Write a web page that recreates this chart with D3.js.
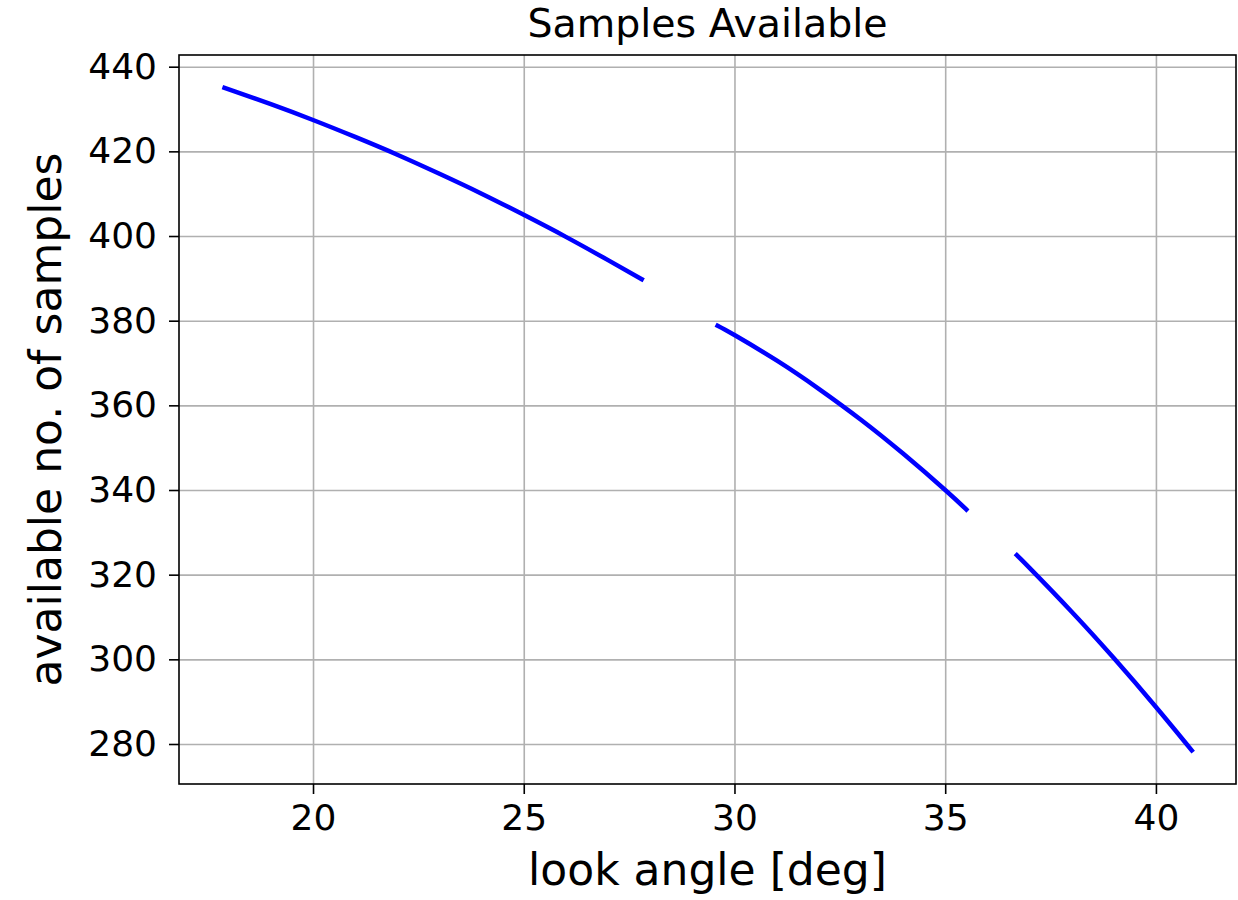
<!DOCTYPE html>
<html>
<head>
<meta charset="utf-8">
<script src="https://cdn.jsdelivr.net/npm/d3@7"></script>
<style>
  html, body { margin: 0; padding: 0; background: #fff; }
  svg { display: block; font-family: "DejaVu Sans", sans-serif; }
</style>
</head>
<body>
<svg id="chart" width="1238" height="900"></svg>
<script>
// ---- data ----
const titleText = "Samples Available";
const xLabelText = "look angle [deg]";
const yLabelText = "available no. of samples";
const xTicks = [20, 25, 30, 35, 40];
const yTicks = [280, 300, 320, 340, 360, 380, 400, 420, 440];

const seg1Angle = [17.9, 19, 20, 21, 22, 23, 24, 25, 26, 27, 27.8];
const seg1Samples = [435.0, 431.15, 427.4, 423.4, 419.2, 414.7, 410.0, 405.0, 399.8, 394.3, 389.8];
const seg2Angle = [29.6, 30, 31, 32, 33, 34, 35, 35.5];
const seg2Samples = [378.8, 376.6, 370.6, 363.9, 356.6, 348.6, 340.0, 335.4];
const seg3Angle = [36.7, 37, 38, 39, 40, 40.85];
const seg3Samples = [324.6, 321.6, 311.25, 300.3, 288.75, 278.5];

// ---- layout ----
const svg = d3.select("#chart");
const margin = { left: 179, right: 1236, top: 55, bottom: 784 };

const x = d3.scaleLinear().domain([16.82, 41.90]).range([margin.left, margin.right]);
const y = d3.scaleLinear().domain([270.55, 442.76]).range([margin.bottom, margin.top]);

const gridColor = "#b0b0b0";

// grid
const gx = svg.append("g").attr("transform", `translate(0,${margin.bottom})`)
  .call(d3.axisBottom(x).tickValues(xTicks).tickSize(-(margin.bottom - margin.top)).tickFormat(""));
gx.selectAll("line").attr("stroke", gridColor).attr("stroke-width", 1.6);
gx.select(".domain").remove();

const gy = svg.append("g").attr("transform", `translate(${margin.left},0)`)
  .call(d3.axisLeft(y).tickValues(yTicks).tickSize(-(margin.right - margin.left)).tickFormat(""));
gy.selectAll("line").attr("stroke", gridColor).attr("stroke-width", 1.6);
gy.select(".domain").remove();

// data lines
const line = d3.line().x(d => x(d[0])).y(d => y(d[1])).curve(d3.curveNatural);
const segments = [
  d3.zip(seg1Angle, seg1Samples),
  d3.zip(seg2Angle, seg2Samples),
  d3.zip(seg3Angle, seg3Samples)
];
svg.append("g").selectAll("path").data(segments).join("path")
  .attr("d", line)
  .attr("fill", "none")
  .attr("stroke", "#0000ff")
  .attr("stroke-width", 4.5)
  .attr("stroke-linecap", "square");

// frame
svg.append("rect")
  .attr("x", margin.left).attr("y", margin.top)
  .attr("width", margin.right - margin.left).attr("height", margin.bottom - margin.top)
  .attr("fill", "none").attr("stroke", "#000").attr("stroke-width", 1.6);

// axes
const ax = svg.append("g").attr("transform", `translate(0,${margin.bottom})`)
  .call(d3.axisBottom(x).tickValues(xTicks).tickSize(10).tickPadding(10).tickFormat(d3.format("d")));
ax.select(".domain").remove();
ax.selectAll("line").attr("stroke", "#000").attr("stroke-width", 1.6);
ax.selectAll("text").attr("font-size", 36).attr("fill", "#000").attr("font-family", "DejaVu Sans");

const ay = svg.append("g").attr("transform", `translate(${margin.left},0)`)
  .call(d3.axisLeft(y).tickValues(yTicks).tickSize(10).tickPadding(12).tickFormat(d3.format("d")));
ay.select(".domain").remove();
ay.selectAll("line").attr("stroke", "#000").attr("stroke-width", 1.6);
ay.selectAll("text").attr("font-size", 36).attr("fill", "#000").attr("font-family", "DejaVu Sans");

// title and labels
const cx = (margin.left + margin.right) / 2;
svg.append("text").attr("x", cx).attr("y", 37).attr("text-anchor", "middle")
  .attr("font-size", 39.5).attr("fill", "#000").text(titleText);
svg.append("text").attr("x", cx).attr("y", 885).attr("text-anchor", "middle")
  .attr("font-size", 44).attr("fill", "#000").text(xLabelText);
svg.append("text")
  .attr("transform", `translate(61,${(margin.top + margin.bottom) / 2}) rotate(-90)`)
  .attr("text-anchor", "middle")
  .attr("font-size", 44).attr("fill", "#000").text(yLabelText);
</script>
</body>
</html>
